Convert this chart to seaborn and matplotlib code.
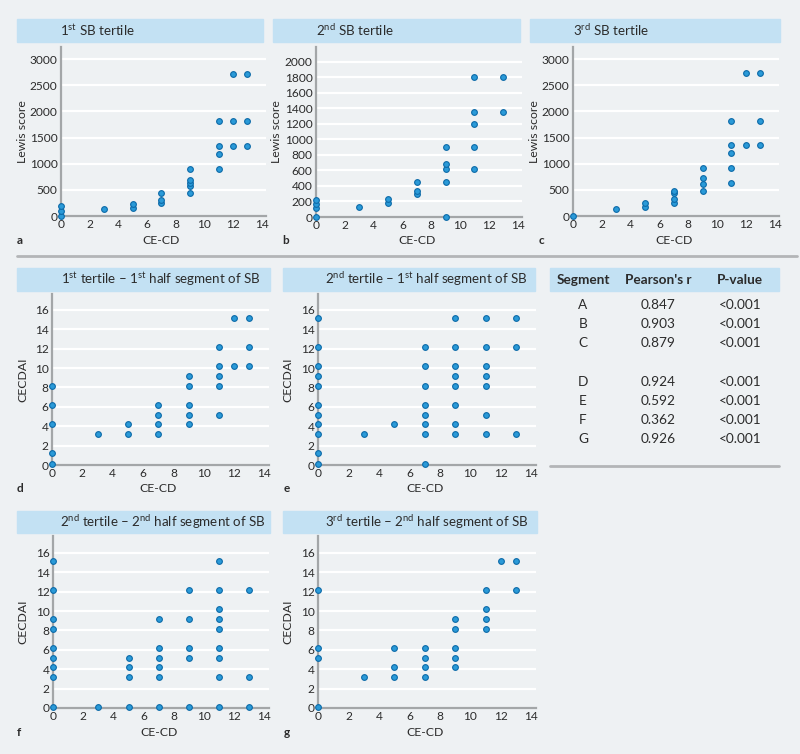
import matplotlib
matplotlib.use('Agg')
import matplotlib.pyplot as plt
from matplotlib.patches import Rectangle
import pandas as pd
import seaborn as sns

# ---- data ----
a_cd = [0, 0, 0, 3, 5, 5, 7, 7, 7, 9, 9, 9, 9, 9, 11, 11, 11, 11, 12, 12, 12, 13, 13, 13]
a_lewis = [0, 96, 198, 134, 153, 236, 249, 306, 447, 447, 581, 632, 689, 893,
           893, 1193, 1346, 1825, 1346, 1825, 2720, 1346, 1825, 2720]

b_cd = [0, 0, 0, 0, 3, 5, 5, 7, 7, 7, 9, 9, 9, 9, 9, 11, 11, 11, 11, 11, 13, 13]
b_lewis = [0, 120, 170, 220, 125, 185, 237, 300, 340, 448, 0, 448, 612, 685, 897,
           612, 897, 1198, 1358, 1802, 1358, 1802]

c_cd = [0, 3, 5, 5, 7, 7, 7, 7, 9, 9, 9, 9, 11, 11, 11, 11, 11, 12, 12, 13, 13, 13]
c_lewis = [0, 142, 174, 245, 258, 329, 432, 477, 471, 619, 723, 910,
           626, 910, 1206, 1361, 1819, 1361, 2742, 1361, 1819, 2742]

d_cd = [0, 0, 0, 0, 0, 3, 5, 5, 7, 7, 7, 7, 9, 9, 9, 9, 9, 11, 11, 11, 11, 11, 12, 12, 13, 13, 13]
d_cecdai = [0.1, 1.2, 4.2, 6.2, 8.2, 3.2, 3.2, 4.2, 3.2, 4.2, 5.2, 6.2, 4.2, 5.2, 6.2, 8.2, 9.2,
            5.2, 8.2, 9.2, 10.2, 12.2, 10.2, 15.2, 10.2, 12.2, 15.2]

e_cd = [0] * 11 + [3, 5] + [7] * 8 + [9] * 8 + [11] * 7 + [13] * 3
e_cecdai = [0.1, 1.2, 3.2, 4.2, 5.2, 6.2, 8.2, 9.2, 10.2, 12.2, 15.2,
            3.2, 4.2,
            0.1, 3.2, 4.2, 5.2, 6.2, 8.2, 10.2, 12.2,
            3.2, 4.2, 6.2, 8.2, 9.2, 10.2, 12.2, 15.2,
            3.2, 5.2, 8.2, 9.2, 10.2, 12.2, 15.2,
            3.2, 12.2, 15.2]

f_cd = [0] * 9 + [3] + [5] * 4 + [7] * 6 + [9] * 5 + [11] * 9 + [13] * 3
f_cecdai = [0.1, 3.2, 4.2, 5.2, 6.2, 8.2, 9.2, 12.2, 15.2,
            0.1,
            0.1, 3.2, 4.2, 5.2,
            0.1, 3.2, 4.2, 5.2, 6.2, 9.2,
            0.1, 5.2, 6.2, 9.2, 12.2,
            0.1, 3.2, 5.2, 6.2, 8.2, 9.2, 10.2, 12.2, 15.2,
            0.1, 3.2, 12.2]

g_cd = [0] * 4 + [3] + [5] * 3 + [7] * 4 + [9] * 5 + [11] * 4 + [12] + [13] * 2
g_cecdai = [0.1, 5.2, 6.2, 12.2,
            3.2,
            3.2, 4.2, 6.2,
            3.2, 4.2, 5.2, 6.2,
            4.2, 5.2, 6.2, 8.2, 9.2,
            8.2, 9.2, 10.2, 12.2,
            15.2,
            12.2, 15.2]

table_segments = ['A', 'B', 'C', 'D', 'E', 'F', 'G']
table_r = ['0.847', '0.903', '0.879', '0.924', '0.592', '0.362', '0.926']
table_p = ['<0.001'] * 7

# ---- style ----
sns.set_theme(style='white')
plt.rcParams['font.family'] = ['Lato', 'DejaVu Sans']
plt.rcParams['mathtext.fontset'] = 'custom'
plt.rcParams['mathtext.rm'] = 'Lato'
plt.rcParams['mathtext.it'] = 'Lato:italic'

BG = '#eef1f3'
BOX = '#c3e1f3'
DOT = '#2a9ad8'
DOT_EDGE = '#0d6aa8'
SPINE = '#a3a6a8'
TXT = '#2b2b2b'

W, H = 800, 754
fig = plt.figure(figsize=(W / 100, H / 100), dpi=100, facecolor=BG)


def add_axes_px(left, top, right, bottom):
    return fig.add_axes([left / W, 1 - bottom / H, (right - left) / W, (bottom - top) / H])


def title_box(x0, y0, x1, y1, text, tx):
    fig.patches.append(Rectangle((x0 / W, 1 - y1 / H), (x1 - x0) / W, (y1 - y0) / H,
                                 transform=fig.transFigure, color=BOX, zorder=0))
    fig.text(tx / W, 1 - (y0 + y1) / 2 / H, text, ha='left', va='center',
             fontsize=9.6, color=TXT)


def panel(box, xs, ys, ylim, yticks, ylabel, letter, ylab_x):
    left, top, right, bottom = box
    ax = add_axes_px(left, top, right, bottom)
    ax.set_facecolor('none')
    df = pd.DataFrame({'CE-CD': xs, 'score': ys})
    sns.scatterplot(data=df, x='CE-CD', y='score', ax=ax, color=DOT, edgecolor=DOT_EDGE,
                    linewidth=0.8, s=17, clip_on=False, zorder=5)
    ax.set_xlim(0, 14.3)
    ax.set_ylim(*ylim)
    ax.set_xticks(range(0, 15, 2))
    ax.set_yticks(yticks)
    ax.yaxis.grid(True, color='white', lw=1.6)
    ax.xaxis.grid(False)
    ax.set_axisbelow(True)
    for s in ['top', 'right']:
        ax.spines[s].set_visible(False)
    for s in ['left', 'bottom']:
        ax.spines[s].set_color(SPINE)
        ax.spines[s].set_linewidth(1.6)
        ax.spines[s].set_zorder(3)
    ax.tick_params(length=0, pad=2.5, labelsize=8.6, labelcolor=TXT)
    ax.set_xlabel('')
    ax.set_ylabel('')
    fig.text(ylab_x / W, 1 - (top + bottom) / 2 / H, ylabel, rotation=90,
             ha='center', va='center', fontsize=8.8, color=TXT)
    xc = left + 7 * (right - left) / 14.3
    fig.text(xc / W, 1 - (bottom + 24) / H, 'CE-CD', ha='center', va='center',
             fontsize=8.8, color=TXT)
    fig.text(17 / W if left < 100 else (left - 34) / W, 1 - (bottom + 24) / H, letter,
             ha='left', va='center', fontsize=8.5, fontweight='bold', color=TXT)
    return ax


# ---- top row: Lewis score ----
title_box(17, 19, 263, 42, '1$^{\\mathrm{st}}$ SB tertile', 60)
title_box(273, 19, 520, 42, '2$^{\\mathrm{nd}}$ SB tertile', 316)
title_box(530, 19, 780, 42, '3$^{\\mathrm{rd}}$ SB tertile', 573)
panel((61, 47, 266, 216), a_cd, a_lewis, (0, 3230), range(0, 3001, 500), 'Lewis score', 'a', 22)
panel((316, 47, 522, 217), b_cd, b_lewis, (0, 2190), range(0, 2001, 200), 'Lewis score', 'b', 276)
panel((573, 47, 779, 216), c_cd, c_lewis, (0, 3230), range(0, 3001, 500), 'Lewis score', 'c', 535)

# separator
fig.add_artist(plt.Line2D([17 / W, 797 / W], [1 - 256 / H, 1 - 256 / H], color='#b3b5b7', lw=2))

# ---- middle row: CECDAI ----
title_box(17, 268, 270, 291, '1$^{\\mathrm{st}}$ tertile – 1$^{\\mathrm{st}}$ half segment of SB', 61)
title_box(283, 268, 535, 291, '2$^{\\mathrm{nd}}$ tertile – 1$^{\\mathrm{st}}$ half segment of SB', 325)
panel((52, 294, 269, 465), d_cd, d_cecdai, (0, 17.65), range(0, 17, 2), 'CECDAI', 'd', 23)
panel((318, 294, 536, 465), e_cd, e_cecdai, (0, 17.65), range(0, 17, 2), 'CECDAI', 'e', 288)

# ---- table ----
fig.patches.append(Rectangle((550 / W, 1 - 291 / H), 229 / W, 23 / H,
                             transform=fig.transFigure, color=BOX, zorder=0))
col_x = [583, 658, 740]
for cx, head in zip(col_x, ['Segment', "Pearson's r", 'P-value']):
    fig.text(cx / W, 1 - 279.5 / H, head, ha='center', va='center', fontsize=9.8,
             fontweight='bold', color=TXT)
row_y = [305, 324, 343, 382, 401, 420, 439]
for ry, seg, r, p in zip(row_y, table_segments, table_r, table_p):
    for cx, val in zip(col_x, [seg, r, p]):
        fig.text(cx / W, 1 - ry / H, val, ha='center', va='center', fontsize=9.8, color=TXT)
fig.add_artist(plt.Line2D([550 / W, 779 / W], [1 - 466 / H, 1 - 466 / H], color='#b3b5b7', lw=2))

# ---- bottom row ----
title_box(17, 511, 270, 533, '2$^{\\mathrm{nd}}$ tertile – 2$^{\\mathrm{nd}}$ half segment of SB', 60)
title_box(283, 511, 537, 533, '3$^{\\mathrm{rd}}$ tertile – 2$^{\\mathrm{nd}}$ half segment of SB', 325)
panel((53, 536, 269, 708), f_cd, f_cecdai, (0, 17.75), range(0, 17, 2), 'CECDAI', 'f', 23)
panel((318, 536, 536, 708), g_cd, g_cecdai, (0, 17.75), range(0, 17, 2), 'CECDAI', 'g', 288)

fig.savefig('out.png', dpi=100, facecolor=BG)
